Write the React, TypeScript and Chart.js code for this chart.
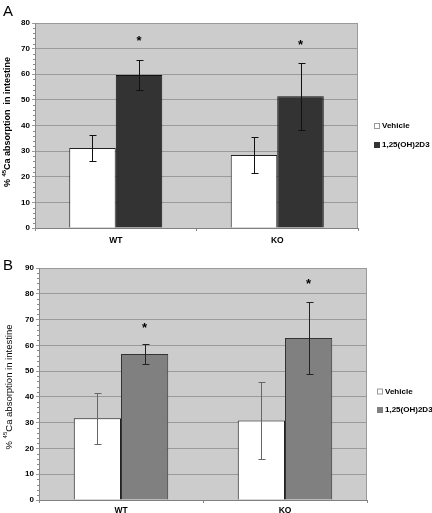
import React, { useEffect, useRef } from "react";
import { Chart, registerables } from "chart.js";

Chart.register(...registerables);

// ---------- data ----------
const groups = ["WT", "KO"];
const seriesLabels = ["Vehicle", "1,25(OH)2D3"];

// Panel A
const aVehicle = [31.2, 28.5];
const aVehicleSd = [5.0, 6.9];
const aTreated = [59.7, 51.4];
const aTreatedSd = [5.9, 13.0];
const aStars = [74.2, 72.9];
const aMax = 80;

// Panel B
const bVehicle = [31.7, 30.8];
const bVehicleSd = [9.9, 15.0];
const bTreated = [56.6, 62.8];
const bTreatedSd = [3.9, 14.0];
const bStars = [68, 85];
const bMax = 90;

const FONT = "'Liberation Sans', Arial, sans-serif";

type PanelCfg = {
  width: number;
  height: number;
  area: { left: number; right: number; top: number; bottom: number };
  max: number;
  vehicle: number[];
  vehicleSd: number[];
  treated: number[];
  treatedSd: number[];
  stars: number[];
  treatedColor: string;
  treatedBorder: string;
  errColors: string[];
  titleBold: boolean;
  titleSize: number;
  titleX: number;
  titleY: number;
  legend: { boxX: number; textX: number; y1: number; y2: number; box: number };
  xTickPad: number;
};

function makePlugin(cfg: PanelCfg) {
  return {
    id: "panelDecor",
    beforeDraw(chart: any) {
      const { ctx, chartArea: a } = chart;
      ctx.save();
      ctx.fillStyle = "#cccccc";
      ctx.fillRect(a.left, a.top, a.right - a.left, a.bottom - a.top);
      ctx.restore();
    },
    afterDraw(chart: any) {
      const { ctx, chartArea: a } = chart;
      const y = chart.scales.y;
      ctx.save();
      // right border
      ctx.strokeStyle = "#9a9a9a";
      ctx.lineWidth = 1;
      ctx.beginPath();
      ctx.moveTo(Math.round(a.right) - 0.5, a.top);
      ctx.lineTo(Math.round(a.right) - 0.5, a.bottom);
      ctx.stroke();
      // minor ticks
      ctx.strokeStyle = "#888";
      for (let v = 0; v <= cfg.max; v += 2) {
        if (v % 10 === 0) continue;
        const py = Math.round(y.getPixelForValue(v)) + 0.5;
        ctx.beginPath();
        ctx.moveTo(a.left - 2, py);
        ctx.lineTo(a.left, py);
        ctx.stroke();
      }
      // y title with superscript
      ctx.translate(cfg.titleX, cfg.titleY);
      ctx.rotate(-Math.PI / 2);
      const w = cfg.titleBold ? "bold " : "";
      const mainFont = `${w}${cfg.titleSize}px ${FONT}`;
      const supFont = `${w}${Math.round(cfg.titleSize * 0.62)}px ${FONT}`;
      const p1 = "% ";
      const p2 = "45";
      const p3 = cfg.titleBold ? "Ca absorption  in intestine" : "Ca absorption in intestine";
      ctx.font = mainFont;
      const w1 = ctx.measureText(p1).width;
      const w3 = ctx.measureText(p3).width;
      ctx.font = supFont;
      const w2 = ctx.measureText(p2).width;
      const total = w1 + w2 + w3;
      let x = -total / 2;
      ctx.fillStyle = "#000";
      ctx.textBaseline = "middle";
      ctx.font = mainFont;
      ctx.fillText(p1, x, 0);
      x += w1;
      ctx.font = supFont;
      ctx.fillText(p2, x, -cfg.titleSize * 0.4);
      x += w2;
      ctx.font = mainFont;
      ctx.fillText(p3, x, 0);
      ctx.restore();

      // legend
      const lg = cfg.legend;
      ctx.save();
      ctx.font = `bold 8px ${FONT}`;
      ctx.textBaseline = "middle";
      ctx.fillStyle = "#fff";
      ctx.fillRect(lg.boxX, lg.y1 - lg.box / 2, lg.box, lg.box);
      ctx.strokeStyle = "#999";
      ctx.strokeRect(lg.boxX + 0.5, lg.y1 - lg.box / 2 + 0.5, lg.box - 1, lg.box - 1);
      ctx.fillStyle = cfg.treatedColor;
      ctx.fillRect(lg.boxX, lg.y2 - lg.box / 2, lg.box, lg.box);
      ctx.fillStyle = "#000";
      ctx.fillText(chart.data.datasets[0].label, lg.textX, lg.y1);
      ctx.fillText(chart.data.datasets[1].label, lg.textX, lg.y2);
      ctx.restore();
    },
    afterDatasetsDraw(chart: any) {
      const { ctx } = chart;
      const y = chart.scales.y;
      const sds = [cfg.vehicleSd, cfg.treatedSd];
      ctx.save();
      ctx.lineWidth = 1;
      chart.data.datasets.forEach((ds: any, i: number) => {
        const meta = chart.getDatasetMeta(i);
        ctx.strokeStyle = cfg.errColors[i];
        meta.data.forEach((el: any, j: number) => {
          const v = ds.data[j];
          const sd = sds[i][j];
          const x = Math.round(el.x) + 0.5;
          const yt = Math.round(y.getPixelForValue(v + sd)) + 0.5;
          const yb = Math.round(y.getPixelForValue(v - sd)) + 0.5;
          ctx.beginPath();
          ctx.moveTo(x, yt);
          ctx.lineTo(x, yb);
          ctx.moveTo(x - 3, yt);
          ctx.lineTo(x + 4, yt);
          ctx.moveTo(x - 3, yb);
          ctx.lineTo(x + 4, yb);
          ctx.stroke();
        });
      });
      // asterisks above treated bars
      const meta1 = chart.getDatasetMeta(1);
      ctx.fillStyle = "#000";
      ctx.font = `bold 13px ${FONT}`;
      ctx.textAlign = "center";
      ctx.textBaseline = "alphabetic";
      meta1.data.forEach((el: any, j: number) => {
        const py = y.getPixelForValue(cfg.stars[j]);
        ctx.fillText("*", el.x, py + 13 * 0.58);
      });
      ctx.restore();
    },
  };
}

function Panel({ cfg }: { cfg: PanelCfg }) {
  const ref = useRef<HTMLCanvasElement>(null);
  useEffect(() => {
    const canvas = ref.current!;
    const a = cfg.area;
    const chart = new Chart(canvas, {
      type: "bar",
      data: {
        labels: groups,
        datasets: [
          {
            label: seriesLabels[0],
            data: cfg.vehicle,
            backgroundColor: "#ffffff",
            borderColor: "#222222",
            borderWidth: 1,
          },
          {
            label: seriesLabels[1],
            data: cfg.treated,
            backgroundColor: cfg.treatedColor,
            borderColor: cfg.treatedBorder,
            borderWidth: 1,
          },
        ],
      },
      options: {
        animation: false,
        responsive: false,
        devicePixelRatio: 1,
        datasets: { bar: { categoryPercentage: 0.576, barPercentage: 1 } },
        layout: {
          padding: { left: 0, top: a.top, right: cfg.width - a.right, bottom: 0 },
        },
        plugins: { legend: { display: false }, tooltip: { enabled: false } },
        scales: {
          x: {
            afterFit: (s: any) => {
              s.height = cfg.height - a.bottom;
            },
            grid: {
              offset: true,
              drawOnChartArea: false,
              tickLength: 3,
              color: "#888",
            },
            border: { color: "#808080" },
            ticks: {
              color: "#000",
              padding: cfg.xTickPad,
              font: { family: FONT, size: 8.5, weight: "bold" },
            },
          },
          y: {
            min: 0,
            max: cfg.max,
            afterFit: (s: any) => {
              s.width = a.left;
            },
            grid: { color: "#9a9a9a", tickLength: 3 },
            border: { color: "#888" },
            ticks: {
              stepSize: 10,
              padding: 2,
              color: "#000",
              font: { family: FONT, size: 8, weight: "bold" },
            },
          },
        },
      },
      plugins: [makePlugin(cfg)],
    } as any);
    return () => chart.destroy();
  }, [cfg]);
  return <canvas ref={ref} width={cfg.width} height={cfg.height} style={{ display: "block" }} />;
}

const cfgA: PanelCfg = {
  width: 432,
  height: 255,
  area: { left: 35, right: 358, top: 23, bottom: 228 },
  max: aMax,
  vehicle: aVehicle,
  vehicleSd: aVehicleSd,
  treated: aTreated,
  treatedSd: aTreatedSd,
  stars: aStars,
  treatedColor: "#333333",
  treatedBorder: "#111111",
  errColors: ["#111", "#111"],
  titleBold: true,
  titleSize: 9,
  titleX: 8,
  titleY: 122,
  legend: { boxX: 374, textX: 382, y1: 126, y2: 145, box: 6 },
  xTickPad: 5,
};

const cfgB: PanelCfg = {
  width: 432,
  height: 258,
  area: { left: 39, right: 367, top: 13, bottom: 245 },
  max: bMax,
  vehicle: bVehicle,
  vehicleSd: bVehicleSd,
  treated: bTreated,
  treatedSd: bTreatedSd,
  stars: bStars,
  treatedColor: "#808080",
  treatedBorder: "#333333",
  errColors: ["#666", "#222"],
  titleBold: false,
  titleSize: 9.5,
  titleX: 9,
  titleY: 132,
  legend: { boxX: 377, textX: 385, y1: 136.5, y2: 155, box: 6 },
  xTickPad: 3,
};

export default function App() {
  return (
    <div
      style={{
        position: "absolute",
        left: 0,
        top: 0,
        width: 432,
        height: 513,
        background: "#fff",
        overflow: "hidden",
      }}
    >
      <div style={{ position: "absolute", left: 0, top: 0 }}>
        <Panel cfg={cfgA} />
      </div>
      <div style={{ position: "absolute", left: 0, top: 255 }}>
        <Panel cfg={cfgB} />
      </div>
      <div
        style={{
          position: "absolute",
          left: 3,
          top: 3,
          font: `15px ${FONT}`,
          lineHeight: 1,
          color: "#000",
        }}
      >
        A
      </div>
      <div
        style={{
          position: "absolute",
          left: 3,
          top: 257,
          font: `15px ${FONT}`,
          lineHeight: 1,
          color: "#000",
        }}
      >
        B
      </div>
    </div>
  );
}
